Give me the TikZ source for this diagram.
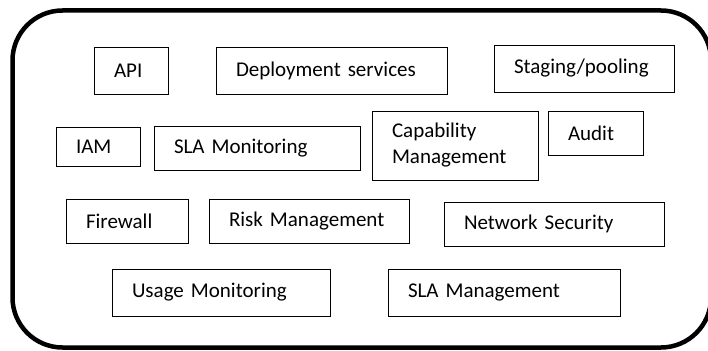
\documentclass[tikz,border=0pt]{standalone}
\usepackage{fontspec}
\setmainfont{Carlito}
\begin{document}
\begin{tikzpicture}[x=1pt,y=-1pt,
  frame/.style={draw, line width=4.5pt, rounded corners=50pt, inner sep=0pt},
  svcbox/.style={draw, line width=0.9pt, inner xsep=20pt, inner ysep=0pt,
    align=left, font=\fontsize{21}{26}\selectfont},
  sz/.style 2 args={minimum width=#1pt, text width=#1pt-40pt, minimum height=#2pt}]
\useasboundingbox (0,0) rectangle (708,350);

% outer container
\node[frame, minimum width=698.5pt, minimum height=337pt] (frame) at (361.75,179) {};

% first row
\node[svcbox, sz={74}{47}]  (api)     at (131,70.5)  {API};
\node[svcbox, sz={231}{47}] (deploy)  at (331.5,70.5) {Deployment services};
\node[svcbox, sz={180}{47}] (staging) at (584,68.5)  {Staging/pooling};

% second row
\node[svcbox, sz={84}{39}]  (iam)     at (98,146.5)  {IAM};
\node[svcbox, sz={206}{44}] (slamon)  at (257,148)   {SLA Monitoring};
\node[svcbox, sz={166}{69}] (capab)   at (455,145.5) {Capability\\Management};
\node[svcbox, sz={95}{44}]  (audit)   at (595.5,133) {Audit};

% third row
\node[svcbox, sz={122}{44}] (fw)      at (127,221)   {Firewall};
\node[svcbox, sz={200}{44}] (risk)    at (309,221)   {Risk Management};
\node[svcbox, sz={220}{44}] (netsec)  at (554,224)   {Network Security};

% fourth row
\node[svcbox, sz={218}{47}] (usage)   at (221,292.5) {Usage Monitoring};
\node[svcbox, sz={232}{47}] (slamgmt) at (504,292.5) {SLA Management};
\end{tikzpicture}
\end{document}
